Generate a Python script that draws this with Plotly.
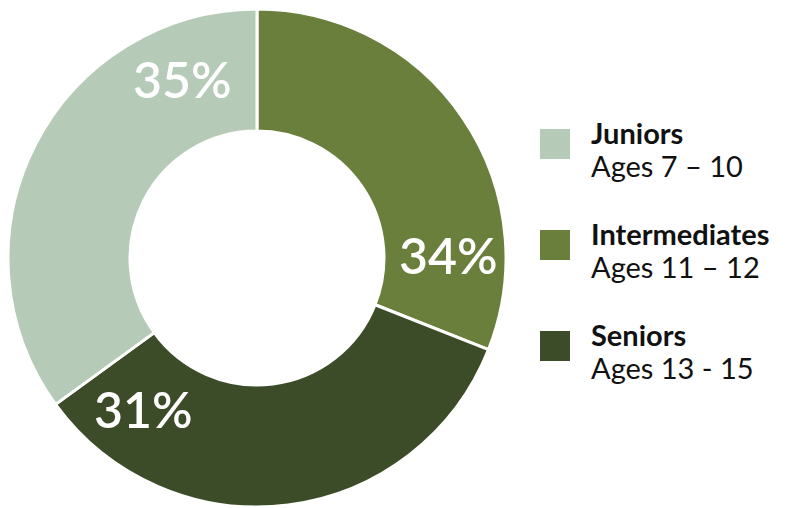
import math
import plotly.graph_objects as go

# Data (clockwise from 12 o'clock, as drawn)
categories = ["Intermediates", "Seniors", "Juniors"]
age_ranges = ["Ages 11 – 12", "Ages 13 - 15", "Ages 7 – 10"]
slice_shares = [31, 34, 35]             # slice sizes as drawn
printed_labels = ["34%", "31%", "35%"]  # percentages printed on the slices
colors = ["#6a7f3c", "#3c4c29", "#b6cbb7"]

# Legend order (top to bottom)
legend_order = ["Juniors", "Intermediates", "Seniors"]

# label placement (angle clockwise from top, degrees)
label_angles = [90, 216.4, 336.9]
label_radius = 191

W, H = 799, 508
OFF = 8  # page body margin offset
cx, cy, R = 257 - OFF, 258 - OFF, 249

fig = go.Figure(go.Pie(
    labels=categories,
    values=slice_shares,
    sort=False,
    direction="clockwise",
    rotation=0,
    hole=0.51,
    marker=dict(colors=colors, line=dict(color="white", width=3)),
    textinfo="none",
    hoverinfo="label+percent",
    showlegend=False,
    domain=dict(x=[max(0, (cx - R) / W), (cx + R) / W],
                y=[(H - cy - R) / H, min(1, (H - cy + R) / H)]),
))

annotations = []
for txt, ang in zip(printed_labels, label_angles):
    a = math.radians(ang)
    px = cx + label_radius * math.sin(a)
    py = cy - label_radius * math.cos(a) - 3
    annotations.append(dict(
        x=px / W, y=(H - py) / H, xref="paper", yref="paper",
        text=txt, showarrow=False, xanchor="center", yanchor="middle",
        font=dict(family="Lato", size=50, color="white", weight=600),
    ))

shapes = []
sq_x0, sq_size = 540 - OFF, 30
legend_top, legend_step = 129 - OFF, 101
text_x = 589 - OFF
for i, name in enumerate(legend_order):
    k = categories.index(name)
    y0 = legend_top + i * legend_step
    shapes.append(dict(
        type="rect", xref="paper", yref="paper",
        x0=sq_x0 / W, x1=(sq_x0 + sq_size) / W,
        y0=(H - y0 - sq_size) / H, y1=(H - y0) / H,
        fillcolor=colors[k], line=dict(width=0),
    ))
    annotations.append(dict(
        x=text_x / W, y=(H - (y0 + 3)) / H, xref="paper", yref="paper",
        text="<b>" + name + "</b>", showarrow=False, xanchor="left", yanchor="middle",
        font=dict(family="Lato", size=29, color="#111111"),
    ))
    annotations.append(dict(
        x=text_x / W, y=(H - (y0 + 36)) / H, xref="paper", yref="paper",
        text=age_ranges[k], showarrow=False, xanchor="left", yanchor="middle",
        font=dict(family="Lato", size=29, color="#111111"),
    ))

fig.update_layout(
    width=W, height=H,
    margin=dict(l=0, r=0, t=0, b=0),
    paper_bgcolor="white", plot_bgcolor="white",
    annotations=annotations, shapes=shapes,
)

fig.write_html("out.html")
